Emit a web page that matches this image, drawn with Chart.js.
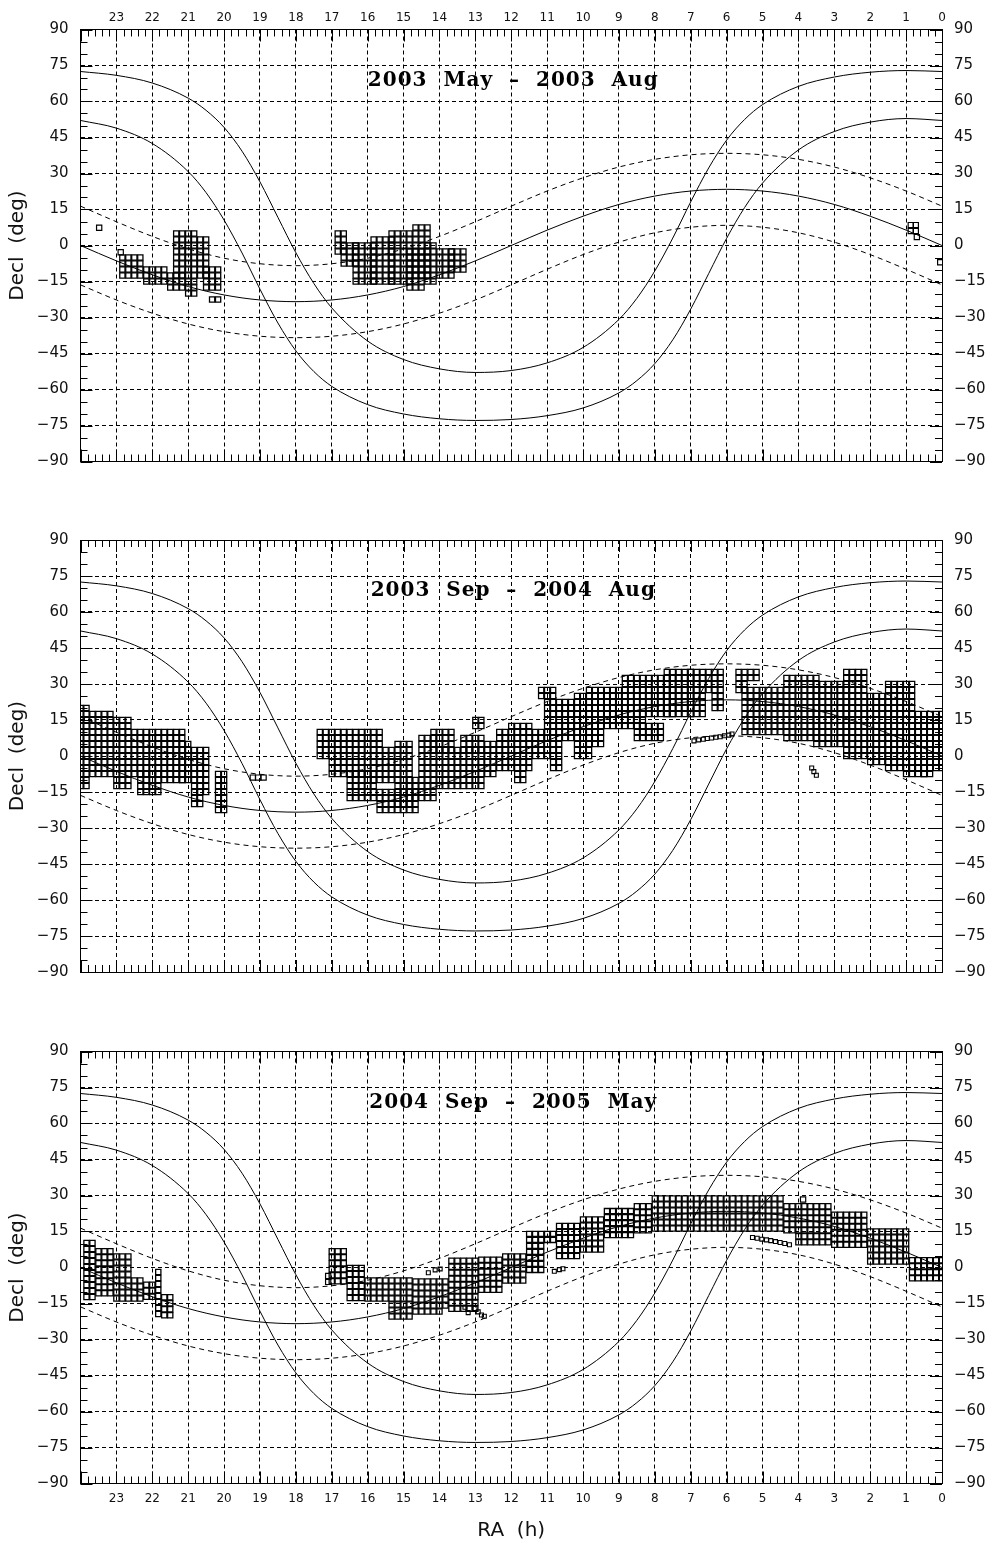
<!DOCTYPE html>
<html>
<head>
<meta charset="utf-8">
<script src="https://cdn.jsdelivr.net/npm/chart.js@4.4.0/dist/chart.umd.min.js"></script>
<style>
  html, body { margin: 0; padding: 0; background: #fff; }
  #wrap { position: relative; width: 990px; height: 1545px; }
  canvas { position: absolute; left: 0; }
</style>
</head>
<body>
<div id="wrap">
  <canvas id="p1" width="990" height="505" style="top:0px"></canvas>
  <canvas id="p2" width="990" height="510" style="top:505px"></canvas>
  <canvas id="p3" width="990" height="530" style="top:1015px"></canvas>
</div>
<script>
// --- reference curves (RA in hours, Decl in deg) ---
// galactic latitude +10 / -10
const RA_GAL = [24, 23, 22, 21, 20.5, 20, 19.5, 19, 18.5, 18, 17.5, 17, 16, 15, 14, 13, 12, 11, 10, 9, 8.5, 8, 7.5, 7, 6.5, 6, 5.5, 5, 4, 3, 2, 1, 0];
const DEC_GAL_PLUS10 = [72.5, 70.9, 67.7, 61.4, 56.3, 49.2, 39.3, 26.5, 11.7, -3.0, -15.8, -26.0, -39.8, -47.5, -51.4, -52.9, -52.1, -48.9, -42.5, -30.8, -22.0, -10.6, 3.1, 18.2, 32.3, 43.9, 52.5, 58.7, 66.3, 70.2, 72.2, 72.9, 72.5];
const DEC_GAL_MINUS10 = [52.1, 48.9, 42.5, 30.8, 22.0, 10.6, -3.1, -18.2, -32.3, -43.9, -52.5, -58.7, -66.3, -70.2, -72.2, -72.9, -72.5, -70.9, -67.7, -61.4, -56.3, -49.2, -39.3, -26.5, -11.7, 3.0, 15.8, 26.0, 39.8, 47.5, 51.4, 52.9, 52.1];

// ecliptic and ecliptic latitude +15 / -15
const RA_ECL = [24, 23, 22, 21, 20, 19, 18, 17, 16, 15, 14, 13, 12, 11, 10, 9, 8, 7, 6, 5, 4, 3, 2, 1, 0];
const DEC_ECLIPTIC = [0, -6.4, -12.2, -17.1, -20.6, -22.7, -23.4, -22.7, -20.6, -17.1, -12.2, -6.4, 0, 6.4, 12.2, 17.1, 20.6, 22.7, 23.4, 22.7, 20.6, 17.1, 12.2, 6.4, 0];
const DEC_ECL_PLUS15 = [16.4, 9.9, 3.8, -1.4, -5.3, -7.6, -8.4, -7.6, -5.3, -1.4, 3.8, 9.9, 16.4, 22.7, 28.2, 32.7, 35.9, 37.8, 38.4, 37.8, 35.9, 32.7, 28.2, 22.7, 16.4];
const DEC_ECL_MINUS15 = [-16.4, -22.7, -28.2, -32.7, -35.9, -37.8, -38.4, -37.8, -35.9, -32.7, -28.2, -22.7, -16.4, -9.9, -3.8, 1.4, 5.3, 7.6, 8.4, 7.6, 5.3, 1.4, -3.8, -9.9, -16.4];

// --- observed fields: runs of cells [RA first, RA last, Decl top, Decl bottom] ---
// columns every 10 min of RA, rows every 2.5 deg
const P1_BLOCKS = [
  [22.83, 22.33, -5, -12.5], [22.17, 21.67, -10, -15], [21.5, 21.17, -12.5, -17.5],
  [21.33, 20.83, 5, -12.5], [20.67, 20.5, 2.5, -12.5], [21.0, 20.83, -15, -20],
  [20.5, 20.17, -10, -17.5], [20.33, 20.17, -22.5, -22.5],
  [16.83, 16.67, 5, -2.5], [16.67, 16.33, 0, -7.5], [16.33, 15.83, 0, -15],
  [15.83, 15.33, 2.5, -15], [15.33, 14.83, 5, -15], [14.83, 14.5, -2.5, -17.5],
  [14.67, 14.33, 7.5, -12.5], [14.33, 14.17, 0, -15], [14.0, 13.67, -2.5, -12.5],
  [13.67, 13.33, -2.5, -10]
];
const P1_SINGLES = [[23.48, 7.4], [22.88, -2.8], [0.87, 8.5], [0.73, 8.5], [0.87, 6], [0.73, 6], [0.7, 3.5], [0.05, -7]];
const P1_SMALL = [];

const P2_BLOCKS = [
  [24.0, 23.83, 20, -12.5], [23.67, 23.5, 17.5, -7.5], [23.33, 23.17, 17.5, -7.5],
  [23.0, 22.67, 15, -12.5], [22.5, 21.83, 10, -7.5], [22.33, 21.83, -7.5, -15],
  [21.67, 21.17, 10, -10], [21.17, 21.0, 5, -10], [20.83, 20.5, 2.5, -15],
  [20.83, 20.67, -15, -20], [20.17, 20.0, -7.5, -22.5],
  [17.33, 17.17, 10, 0], [17.0, 16.0, 10, -7.5], [16.5, 15.83, -7.5, -17.5],
  [15.83, 15.67, 10, -10], [15.5, 15.33, 2.5, -10], [15.17, 14.83, 5, -20],
  [15.67, 14.67, -15, -22.5], [14.83, 14.67, -10, -17.5], [14.5, 14.17, 7.5, -17.5],
  [14.17, 13.67, 10, 2.5], [14.0, 12.83, 2.5, -12.5], [13.33, 12.83, 7.5, 2.5],
  [13.0, 12.83, 15, 12.5], [12.67, 12.5, 5, -7.5], [12.33, 12.17, 10, -5],
  [12.0, 11.5, 12.5, -5], [11.83, 11.67, -7.5, -10], [11.33, 11.0, 10, 0],
  [10.83, 10.67, 5, -5], [11.17, 10.83, 27.5, 25], [11.0, 10.17, 22.5, 7.5],
  [10.17, 9.83, 25, 0], [9.83, 9.5, 27.5, 5], [9.33, 9.0, 27.5, 12.5],
  [8.83, 8.33, 32.5, 12.5], [8.5, 7.83, 12.5, 7.5], [8.17, 7.5, 32.5, 17.5],
  [7.67, 7.0, 35, 17.5], [7.0, 6.67, 35, 17.5], [6.5, 6.17, 35, 27.5],
  [6.33, 6.17, 25, 20],
  [5.67, 5.17, 35, 32.5], [5.67, 5.5, 30, 27.5], [5.5, 4.5, 27.5, 10],
  [4.33, 3.5, 32.5, 7.5], [3.5, 2.67, 30, 5], [2.67, 2.17, 35, 0],
  [2.0, 1.5, 25, -2.5], [1.5, 0.83, 30, -5], [1.0, 0.5, -5, -7.5],
  [0.67, 0.0, 17.5, -5], [0.5, 0.33, -7.5, -7.5]
];
const P2_SINGLES = [[19.2, -9], [19.05, -9], [18.9, -9]];
const P2_SMALL = [
  [6.91, 6.3], [6.78, 6.7], [6.65, 7.0], [6.54, 7.3], [6.42, 7.5], [6.30, 7.8],
  [6.18, 8.0], [6.06, 8.4], [5.94, 8.7], [5.85, 9.2],
  [3.63, -5], [3.57, -6.5], [3.5, -8]
];

const P3_BLOCKS = [
  [23.83, 23.67, 10.2, -13.5], [23.5, 23.17, 6.8, -10.7], [23.0, 22.67, 4.6, -12.9],
  [22.5, 22.33, -5.4, -12.9], [22.17, 22.0, -7.2, -12.2], [21.83, 21.83, -1.9, -19.4],
  [21.67, 21.5, -12.4, -19.9],
  [17.0, 16.67, 6.8, -5.7], [16.5, 16.17, -0.2, -12.7], [16.0, 15.5, -5.4, -12.9],
  [15.33, 14.83, -5.4, -20.4], [14.67, 14.0, -5.8, -17.8], [13.83, 13.83, -5.8, -15.8],
  [13.67, 13.0, 2.8, -16.5], [12.83, 12.33, 3.2, -10.2], [12.17, 11.67, 4.6, -4.6],
  [11.5, 11.17, 14, -0.4], [11.0, 10.83, 14, 11.5], [10.67, 10.17, 17.3, 4.8],
  [10.0, 9.5, 20, 7.5], [9.33, 8.67, 23.5, 13.5], [8.5, 8.17, 25.5, 15.5],
  [8.0, 4.5, 28.75, 16.25], [4.33, 4.17, 25.5, 14.5], [4.0, 3.17, 25.5, 10.5],
  [3.0, 2.17, 22, 8.5], [2.0, 1.0, 15, 3], [0.83, 0.0, 3, -4.5]
];
const P3_SINGLES = [[3.87, 28.3], [17.1, -3.5], [17.1, -6]];
const P3_SMALL = [
  [5.28, 12.5], [5.15, 12.2], [5.02, 11.8], [4.89, 11.5], [4.77, 11.2],
  [4.64, 10.8], [4.51, 10.4], [4.38, 10.0], [4.25, 9.5],
  [14.31, -2.2], [14.12, -1.0], [13.98, -0.6],
  [10.8, -1.6], [10.66, -0.9], [10.56, -0.5],
  [13.29, -16.6], [13.2, -18.8], [13.01, -17.1], [12.92, -18.5], [12.83, -19.8], [12.75, -20.3]
];

const PANELS = [
  { id: 'p1', title: '2003  May  \u2013  2003  Aug', blocks: P1_BLOCKS, singles: P1_SINGLES, small: P1_SMALL,
    topH: 29.5, bottomH: 43.5, topLabels: true, bottomLabels: false },
  { id: 'p2', title: '2003  Sep  \u2013  2004  Aug', blocks: P2_BLOCKS, singles: P2_SINGLES, small: P2_SMALL,
    topH: 35, bottomH: 43, topLabels: false, bottomLabels: false },
  { id: 'p3', title: '2004  Sep  \u2013  2005  May', blocks: P3_BLOCKS, singles: P3_SINGLES, small: P3_SMALL,
    topH: 36.5, bottomH: 61.5, topLabels: false, bottomLabels: true }
];

const TEXT = '#111';

const toXY = (xs, ys) => xs.map((x, i) => ({ x: x, y: ys[i] }));
const pairs = arr => arr.map(p => ({ x: p[0], y: p[1] }));

function cells(blocks) {
  const out = [];
  blocks.forEach(b => {
    const k0 = Math.round(b[0] * 6), k1 = Math.round(b[1] * 6);
    const rows = Math.round((b[2] - b[3]) / 2.5);
    for (let k = k0; k >= k1; k--) {
      for (let j = 0; j <= rows; j++) out.push({ x: k / 6, y: b[2] - 2.5 * j });
    }
  });
  return out;
}

// inward tick marks + panel caption
const framePlugin = {
  id: 'frame',
  afterDraw(chart, args, opts) {
    const { ctx, chartArea: a, scales } = chart;
    ctx.save();
    ctx.strokeStyle = '#000';
    ctx.lineWidth = 1;
    ctx.beginPath();
    for (let i = 0; i <= 120; i++) {
      const px = Math.round(scales.x.getPixelForValue(i / 5)) + 0.5;
      const len = i % 5 === 0 ? 12 : 7;
      ctx.moveTo(px, a.top); ctx.lineTo(px, a.top + len);
      ctx.moveTo(px, a.bottom); ctx.lineTo(px, a.bottom - len);
    }
    for (let i = 0; i <= 36; i++) {
      const py = Math.round(scales.y.getPixelForValue(-90 + 5 * i)) + 0.5;
      const len = i % 3 === 0 ? 12 : 7;
      ctx.moveTo(a.left, py); ctx.lineTo(a.left + len, py);
      ctx.moveTo(a.right, py); ctx.lineTo(a.right - len, py);
    }
    ctx.stroke();
    ctx.fillStyle = '#000';
    ctx.font = 'bold 20px "DejaVu Serif"';
    ctx.textAlign = 'center';
    ctx.textBaseline = 'middle';
    if ('letterSpacing' in ctx) ctx.letterSpacing = '1px';
    ctx.fillText(opts.text, (a.left + a.right) / 2 + 2, a.top + 51);
    ctx.restore();
  }
};

const decLabel = v => (v < 0 ? '\u2212' + Math.abs(v) : String(v));
const raLabel = v => (v === 24 ? '' : String(v));

function buildScales(p) {
  const fontY = { family: 'DejaVu Sans', size: 15 };
  const fontX = { family: 'DejaVu Sans', size: 12 };
  const border = { display: true, color: '#000', width: 1, dash: [4, 3] };
  return {
    x: {
      type: 'linear', axis: 'x', position: 'bottom', min: 0, max: 24, reverse: true,
      ticks: { stepSize: 1, autoSkip: false, maxRotation: 0, display: p.bottomLabels, padding: 8, color: TEXT, font: fontX, callback: raLabel },
      grid: { color: '#000', lineWidth: 1, drawTicks: false, borderDash: [4, 3] },
      border: border,
      title: { display: p.bottomLabels, text: 'RA  (h)', color: TEXT, font: { family: 'DejaVu Sans', size: 20 }, padding: { top: 0, bottom: 2 } },
      afterFit: s => { s.height = p.bottomH; }
    },
    x2: {
      type: 'linear', axis: 'x', position: 'top', min: 0, max: 24, reverse: true,
      ticks: { stepSize: 1, autoSkip: false, maxRotation: 0, display: p.topLabels, padding: 4, color: TEXT, font: fontX, callback: raLabel },
      grid: { drawOnChartArea: false, drawTicks: false },
      border: { display: true, color: '#000', width: 1 },
      afterFit: s => { s.height = p.topH; }
    },
    y: {
      type: 'linear', axis: 'y', position: 'left', min: -90, max: 90,
      ticks: { stepSize: 15, autoSkip: false, padding: 12, color: TEXT, font: fontY, callback: decLabel },
      grid: { color: '#000', lineWidth: 1, drawTicks: false, borderDash: [4, 3] },
      border: border,
      title: { display: true, text: 'Decl  (deg)', color: TEXT, font: { family: 'DejaVu Sans', size: 20 }, padding: { top: 6, bottom: 0 } },
      afterFit: s => { s.width = 80.5; }
    },
    y2: {
      type: 'linear', axis: 'y', position: 'right', min: -90, max: 90,
      ticks: { stepSize: 15, autoSkip: false, padding: 12, color: TEXT, font: fontY, callback: decLabel },
      grid: { drawOnChartArea: false, drawTicks: false },
      border: { display: true, color: '#000', width: 1 },
      afterFit: s => { s.width = 48; }
    }
  };
}

function curve(data, dashed) {
  return {
    data: data, showLine: true, pointRadius: 0, borderColor: '#000', borderWidth: 1,
    borderDash: dashed ? [5, 4] : [], cubicInterpolationMode: 'monotone', fill: false
  };
}

function boxes(data, r, w) {
  return {
    data: data, showLine: false, pointStyle: 'rect', pointRadius: r, pointHoverRadius: r,
    pointBackgroundColor: 'rgba(0,0,0,0)', pointBorderColor: '#000', pointBorderWidth: w,
    backgroundColor: 'rgba(0,0,0,0)', borderColor: '#000', clip: 0
  };
}

PANELS.forEach(p => {
  new Chart(document.getElementById(p.id), {
    type: 'scatter',
    data: {
      datasets: [
        boxes(cells(p.blocks), 3.7, 1.3),
        boxes(pairs(p.singles), 3.7, 1.2),
        boxes(pairs(p.small), 2.8, 1.1),
        curve(toXY(RA_GAL, DEC_GAL_PLUS10), false),
        curve(toXY(RA_GAL, DEC_GAL_MINUS10), false),
        curve(toXY(RA_ECL, DEC_ECLIPTIC), false),
        curve(toXY(RA_ECL, DEC_ECL_PLUS15), true),
        curve(toXY(RA_ECL, DEC_ECL_MINUS15), true)
      ]
    },
    options: {
      responsive: false,
      animation: false,
      events: [],
      layout: { padding: 0 },
      scales: buildScales(p),
      plugins: { legend: { display: false }, tooltip: { enabled: false }, frame: { text: p.title } }
    },
    plugins: [framePlugin]
  });
});
</script>
</body>
</html>
